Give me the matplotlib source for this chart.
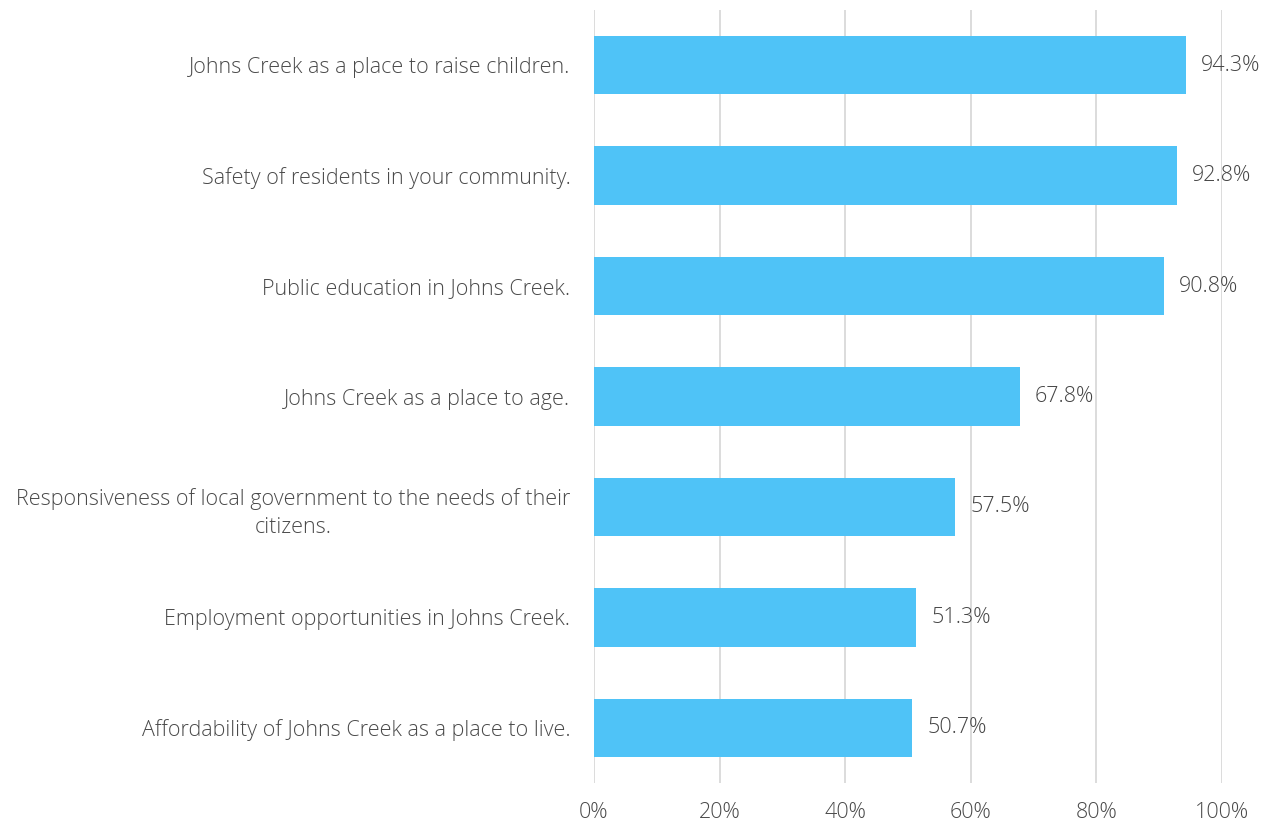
import matplotlib.pyplot as plt
from matplotlib.ticker import FuncFormatter

# survey items, top to bottom
categories = [
    "Johns Creek as a place to raise children.",
    "Safety of residents in your community.",
    "Public education in Johns Creek.",
    "Johns Creek as a place to age.",
    "Responsiveness of local government to the needs of their\ncitizens.",
    "Employment opportunities in Johns Creek.",
    "Affordability of Johns Creek as a place to live.",
]
values = [94.3, 92.8, 90.8, 67.8, 57.5, 51.3, 50.7]
ticks = [0, 20, 40, 60, 80, 100]

plt.rcParams['font.family'] = ['Open Sans', 'DejaVu Sans']
plt.rcParams['font.weight'] = 'light'

fig = plt.figure(figsize=(12.73, 8.25), dpi=100)
ax = fig.add_axes([594 / 1273, 1 - 783 / 825, 628 / 1273, 773 / 825])

ypos = list(range(len(categories)))
ax.barh(ypos, values, height=0.53, color='#4FC3F7', zorder=3)

for y, v in zip(ypos, values):
    ax.text(v + 2.4, y, f"{v:.1f}%", va='center', ha='left',
            fontsize=15.5, color='#454545', zorder=4)

ax.set_xlim(0, 100)
ax.set_ylim(len(categories) - 0.5, -0.5)
ax.set_xticks(ticks)
ax.xaxis.set_major_formatter(FuncFormatter(lambda x, _: f"{x:.0f}%"))
ax.set_yticks(ypos)
ax.set_yticklabels(categories, multialignment='center', linespacing=1.45)

ax.grid(axis='x', color='#d9d9d9', linewidth=1.3, zorder=0)
for s in ax.spines.values():
    s.set_visible(False)
ax.tick_params(axis='both', length=0, labelsize=15.5, colors='#4a4a4a')
ax.tick_params(axis='y', pad=17)
ax.tick_params(axis='x', pad=14)

fig.savefig('out.png', dpi=100)
